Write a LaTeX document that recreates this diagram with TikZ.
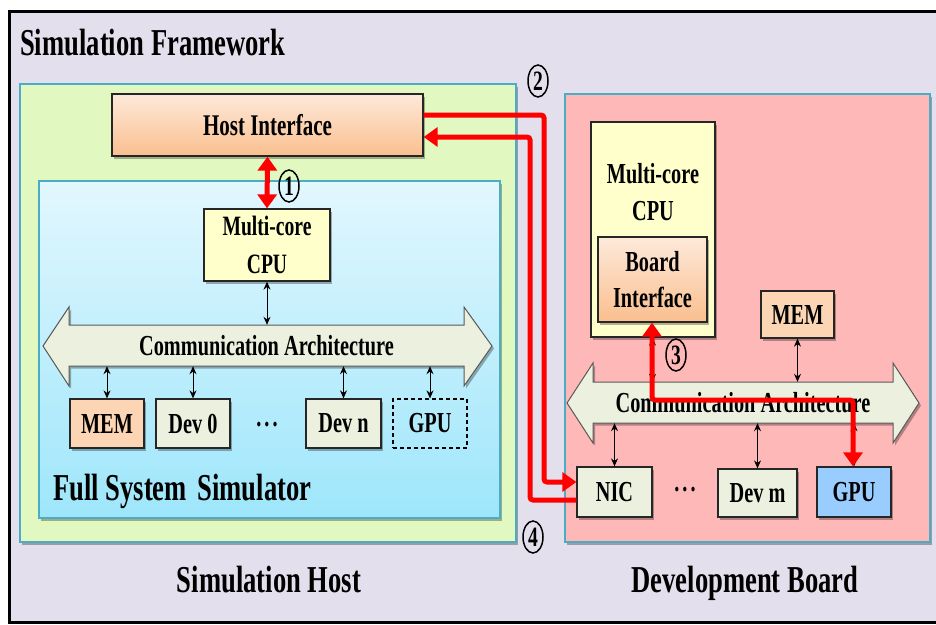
\documentclass[tikz,border=0pt]{standalone}
\usepackage{fontspec}
\setmainfont{Liberation Serif}[FakeStretch=0.7]
\usetikzlibrary{arrows.meta,shadows,shapes.geometric}

\definecolor{frameBg}{HTML}{E4DFEC}
\definecolor{hostGreen}{HTML}{E1F9C0}
\definecolor{edgeBlue}{HTML}{4BACC6}
\definecolor{simTop}{HTML}{E2F7FE}
\definecolor{simBot}{HTML}{9EE6FB}
\definecolor{boardPink}{HTML}{FFB8B8}
\definecolor{cpuYellow}{HTML}{FFFFCC}
\definecolor{ifTop}{HTML}{FDE9D9}
\definecolor{ifBot}{HTML}{FABF8F}
\definecolor{memOrange}{HTML}{FCD5B4}
\definecolor{devGreen}{HTML}{EBF1DE}
\definecolor{gpuBlue}{HTML}{99CCFF}
\definecolor{busEdge}{HTML}{595959}

\begin{document}
\begin{tikzpicture}[x=1pt,y=-1pt,
  softshadow/.style={drop shadow={shadow xshift=2pt,shadow yshift=-2.5pt,opacity=0.3,fill=black}},
  region/.style={draw=edgeBlue,line width=1.5pt,softshadow},
  blockbase/.style={draw=black!85,line width=1.3pt,inner sep=0pt,align=center,
    font=\fontsize{29}{37}\selectfont\bfseries},
  block/.style={blockbase,softshadow},
  plain/.style={inner sep=0pt,align=center,font=\fontsize{29}{37}\selectfont\bfseries},
  biglabel/.style={inner sep=0pt,font=\fontsize{38}{40}\selectfont\bfseries},
  busshape/.style={draw=busEdge,line width=1pt,fill=devGreen,softshadow},
  numtag/.style={ellipse,draw,line width=1.5pt,minimum width=20pt,minimum height=32pt,
    inner sep=0pt,font=\fontsize{28}{28}\selectfont\bfseries},
  dbl/.style={{Stealth[length=8pt,width=7pt]}-{Stealth[length=8pt,width=7pt]},line width=1pt},
  redpath/.style={draw=red,line width=5pt,rounded corners=3pt},
  redtip/.tip={Triangle[length=14pt,width=19pt]}
]
\useasboundingbox (0,0) rectangle (936,624);

% outer frame (runs off the right edge)
\draw[line width=3pt,fill=frameBg] (9.5,11.5) rectangle (980,622);
\node[biglabel,anchor=base west] (title) at (20,55) {Simulation Framework};

% simulation host side
\draw[region,fill=hostGreen] (20,84) rectangle (516,542);
\draw[region,top color=simTop,bottom color=simBot] (39,181) rectangle (500,518);
\node[block,minimum width=311pt,minimum height=62pt,top color=ifTop,bottom color=ifBot,
  font=\fontsize{30}{32}\selectfont\bfseries] (hi) at (267.5,125) {Host Interface};
\node[block,fill=cpuYellow,minimum width=126pt,minimum height=72pt,
  font=\fontsize{28}{38}\selectfont\bfseries] (cpuA) at (267,245) {Multi-core\\CPU};

% host bus
\path[busshape] (43,346) -- (69,307) -- (69,325) -- (464,325) -- (464,307) -- (492,346)
  -- (464,386) -- (464,366) -- (69,366) -- (69,386) -- cycle;
\node[plain,minimum width=395pt,minimum height=41pt] (busA) at (266.5,345.5) {Communication Architecture};

\node[block,fill=memOrange,minimum width=74pt,minimum height=49pt] (memA) at (107,423.5) {MEM};
\node[block,fill=devGreen,minimum width=74pt,minimum height=49pt] (dev0) at (193,423.5) {Dev 0};
\node[plain] (dotsA) at (267,425) {.\hspace{3pt}.\hspace{3pt}.};
\node[block,fill=devGreen,minimum width=75pt,minimum height=49pt] (devn) at (343.5,423.5) {Dev n};
\node[blockbase,line width=1.2pt,draw=black,dash pattern=on 4pt off 3pt,
  minimum width=74pt,minimum height=49pt] (gpuA) at (430,423.5) {GPU};

\node[biglabel,anchor=base west] (fss) at (53,500) {Full System\hspace{4pt} Simulator};
\node[biglabel,anchor=base] (hostlbl) at (269,592) {Simulation Host};

\draw[dbl] (cpuA.south) -- (cpuA.south |- busA.north);
\draw[dbl] (busA.south -| memA.north) -- (memA.north);
\draw[dbl] (busA.south -| dev0.north) -- (dev0.north);
\draw[dbl] (busA.south -| devn.north) -- (devn.north);
\draw[dbl] (busA.south -| gpuA.north) -- (gpuA.north);

% development board side
\draw[region,fill=boardPink] (565,94) rectangle (930,542);
\node[block,fill=cpuYellow,minimum width=124pt,minimum height=215pt] (cpuB) at (653,229.5) {};
\node[plain,font=\fontsize{29}{37}\selectfont\bfseries] (cpuBtxt) at (653,192) {Multi-core\\CPU};
\node[block,top color=ifTop,bottom color=ifBot,minimum width=109pt,minimum height=85pt,
  font=\fontsize{29}{36}\selectfont\bfseries] (bi) at (652.5,279.5) {Board\\Interface};
\node[block,fill=memOrange,minimum width=73pt,minimum height=47pt] (memB) at (797.5,314.5) {MEM};

\path[busshape] (567,403) -- (593,363) -- (593,382) -- (893,382) -- (893,363) -- (919,403)
  -- (893,443) -- (893,423) -- (593,423) -- (593,443) -- cycle;
\node[plain,minimum width=300pt,minimum height=41pt] (busB) at (743,402.5) {Communication Architecture};

\node[block,fill=devGreen,minimum width=75pt,minimum height=50pt] (nic) at (614.5,492) {NIC};
\node[plain] (dotsB) at (685,490) {.\hspace{3pt}.\hspace{3pt}.};
\node[block,fill=devGreen,minimum width=79pt,minimum height=48pt] (devm) at (757.5,493) {Dev m};
\node[block,fill=gpuBlue,minimum width=74pt,minimum height=50pt] (gpuB) at (854,492) {GPU};
\node[biglabel,anchor=base] (boardlbl) at (745,592) {Development Board};

\draw[dbl] (cpuB.south -| bi.south) -- (busB.north -| bi.south);
\draw[dbl] (memB.south) -- (memB.south |- busB.north);
\draw[dbl] (busB.south -| nic.north) -- (nic.north);
\draw[dbl] (busB.south -| devm.north) -- (devm.north);
\draw[dbl] (busB.south -| gpuB.north) -- (gpuB.north);

% red data paths
\coordinate (p2a) at (544,115);
\coordinate (p2b) at (544,482);
\coordinate (p4a) at (530,137);
\coordinate (p4b) at (530,500);
\coordinate (p3a) at (652,400);
\coordinate (p3b) at (853,400);
\draw[redpath,{redtip}-{redtip}] (hi.south) -- (cpuA.north);
\draw[redpath,-{redtip}] (p2a -| hi.east) -- (p2a) -- (p2b) -- (p2b -| nic.west);
\draw[redpath,-{redtip}] (p4b -| nic.west) -- (p4b) -- (p4a) -- (p4a -| hi.east);
\draw[redpath,{redtip}-{redtip}] (p3a |- bi.south) -- (p3a) -- (p3b) -- (p3b |- gpuB.north);

% step numbers
\node[numtag] (n1) at (289,186) {1};
\node[numtag] (n2) at (538,81) {2};
\node[numtag] (n3) at (676,355) {3};
\node[numtag] (n4) at (533,537) {4};
\end{tikzpicture}
\end{document}
